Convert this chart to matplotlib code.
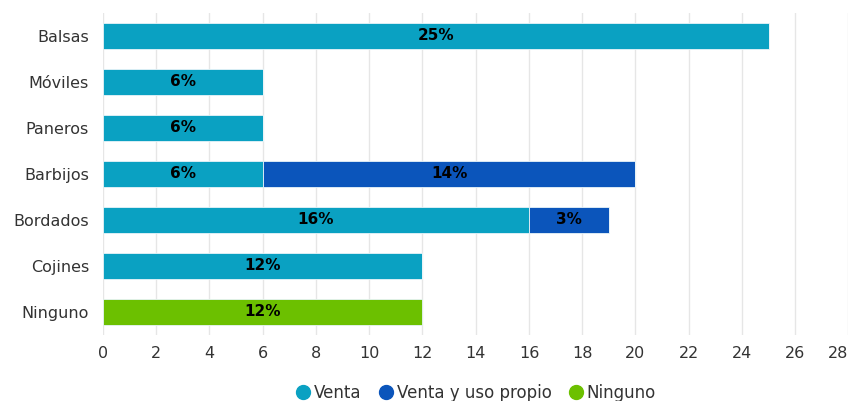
import numpy as np
import matplotlib.pyplot as plt
from matplotlib.lines import Line2D

# Data
categories = ['Balsas', 'Móviles', 'Paneros', 'Barbijos', 'Bordados', 'Cojines', 'Ninguno']
venta = [25, 6, 6, 6, 16, 12, 0]
venta_uso = [0, 0, 0, 14, 3, 0, 0]
ninguno = [0, 0, 0, 0, 0, 0, 12]

series_names = ['Venta', 'Venta y uso propio', 'Ninguno']
colors = ['#0aa1c2', '#0b55bb', '#6cc000']

fig = plt.figure(figsize=(8.51, 4.01), dpi=100)
ax = fig.add_axes([0.121, 0.165, 0.876, 0.803])

y = np.arange(len(categories))
left = np.zeros(len(categories))
for vals, col in zip([venta, venta_uso, ninguno], colors):
    vals = np.array(vals, dtype=float)
    bars = ax.barh(y, vals, left=left, height=0.57, color=col,
                   edgecolor='#e8f4f8', linewidth=0.6, zorder=3)
    for b, v in zip(bars, vals):
        if v > 0:
            ax.text(b.get_x() + b.get_width() / 2, b.get_y() + b.get_height() / 2,
                    '%d%%' % v, ha='center', va='center', fontsize=11,
                    fontweight='bold', color='black', zorder=4)
    left += vals

ax.set_ylim(len(categories) - 0.5, -0.5)
ax.set_xlim(0, 28)
ax.set_xticks(np.arange(0, 29, 2))
ax.set_yticks(y)
ax.set_yticklabels(categories)
ax.tick_params(axis='both', length=0, labelsize=11.5, colors='#333333')
ax.tick_params(axis='x', pad=8)
ax.tick_params(axis='y', pad=10)
ax.xaxis.grid(True, color='#e6e6e6', linewidth=1, zorder=0)
for s in ax.spines.values():
    s.set_visible(False)
xl = ax.get_xticklabels()
xl[-1].set_horizontalalignment('right')

handles = [Line2D([0], [0], marker='o', linestyle='', markersize=10,
                  markerfacecolor=c, markeredgecolor=c) for c in colors]
fig.legend(handles, series_names, loc='center', bbox_to_anchor=(0.56, 0.02),
           ncol=3, frameon=False, fontsize=12, handlelength=0.7,
           handletextpad=0.3, columnspacing=1.1, labelcolor='#333333')

fig.savefig('out.png', dpi=100)
